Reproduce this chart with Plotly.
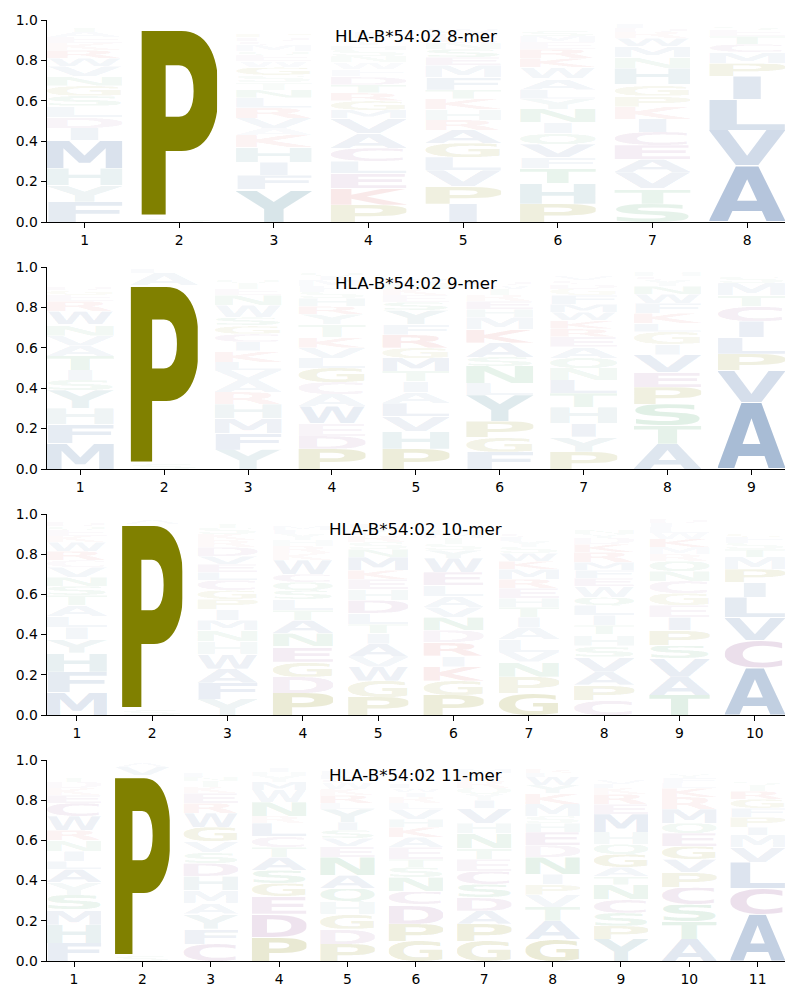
import base64
import plotly.graph_objects as go

TITLES = ["HLA-B*54:02 8-mer", "HLA-B*54:02 9-mer", "HLA-B*54:02 10-mer", "HLA-B*54:02 11-mer"]

# letters stacked bottom -> top for each position, with their heights
LETTERS_8 = ["FYHMIDLSGNVWRKEATC", "SPALV", "YFIHKAVRLNTSGWEQMCDP", "PKELCAVMGRTDFWNSHYQI",
             "IPVLGARHKTFMESNCDWY", "PHTFVQINYLAWKREMSGC", "STVAECIKPGHNMWRDF", "AVLIPMCTES"]
HEIGHTS_8 = [
    [.10, .08, .085, .14, .06, .055, .055, .05, .05, .045, .05, .04, .04, .035, .03, .025, .02, .015],
    [.02, .935, .015, .01, .01],
    [.16, .07, .065, .075, .06, .035, .05, .05, .05, .04, .035, .035, .04, .03, .03, .02, .03, .02, .02, .02],
    [.085, .08, .075, .06, .065, .075, .075, .04, .045, .04, .04, .04, .035, .035, .03, .03, .025, .02, .015, .03],
    [.09, .085, .08, .065, .07, .065, .05, .055, .05, .045, .06, .06, .04, .04, .03, .03, .02, .02, .015],
    [.09, .10, .075, .055, .065, .055, .055, .065, .05, .045, .055, .055, .045, .045, .035, .03, .025, .015, .015],
    [.09, .075, .08, .065, .07, .065, .065, .06, .055, .055, .08, .055, .055, .04, .03, .02, .02],
    [.28, .175, .15, .115, .065, .055, .04, .04, .03, .02],
]

LETTERS_9 = ["MFHYSITAVNWREGDCQ", "SPAL", "YFMHRAVLKICGSWNETQ", "PDEWACGLVKTYRHSFMIQ",
             "PHVLAITMGRFYSEKNWC", "FGPYLNSAKMHERTWD", "PYIHTLNQAERKWMFGDCV", "ATSPEVIGLKFWNYCH", "AVPLICTMS"]
HEIGHTS_9 = [
    [.125, .095, .08, .09, .05, .05, .07, .05, .05, .055, .065, .05, .03, .025, .02, .015, .015],
    [.025, .885, .06, .02],
    [.095, .08, .075, .07, .06, .06, .05, .04, .055, .045, .04, .04, .04, .06, .05, .03, .03, .02],
    [.1, .065, .06, .085, .06, .06, .07, .05, .05, .055, .06, .05, .04, .04, .03, .03, .03, .02, .02],
    [.1, .085, .075, .065, .055, .055, .05, .065, .05, .065, .05, .07, .04, .035, .03, .03, .02, .015],
    [.085, .07, .08, .13, .06, .085, .045, .07, .065, .06, .04, .04, .03, .03, .02, .02],
    [.085, .075, .065, .08, .07, .065, .06, .05, .055, .05, .04, .04, .04, .04, .045, .03, .025, .02, .02],
    [.125, .09, .105, .085, .075, .085, .055, .06, .04, .05, .05, .045, .04, .03, .02, .02],
    [.33, .16, .08, .08, .08, .075, .055, .06, .03],
]

LETTERS_10 = ["MFHYILATSNVCRWKEQD", "SPAL", "YFAWHNMIPGCLEVDRKSTQ", "PDGENATLSQCWKRHYFM",
              "PGWVAITLDHEKMNSRCYF", "PGKIRDNVALEWYSTMH", "GPNVLAITHERMKWSYFC", "CPAVSHTILQWEFMRKDYN",
              "TAVSPIEGCNQRMKWLFD", "ACVLIPMTSFG"]
HEIGHTS_10 = [
    [.115, .1, .095, .065, .06, .055, .055, .05, .045, .045, .05, .035, .045, .045, .03, .03, .02, .02],
    [.025, .925, .02, .015],
    [.08, .08, .07, .075, .06, .055, .05, .055, .05, .045, .05, .04, .04, .04, .045, .035, .03, .03, .02, .015],
    [.11, .08, .075, .075, .065, .065, .05, .055, .045, .04, .04, .07, .035, .035, .03, .03, .02, .02],
    [.09, .08, .07, .05, .065, .05, .045, .055, .065, .055, .05, .045, .065, .04, .035, .03, .02, .02, .02],
    [.1, .07, .07, .055, .065, .06, .065, .05, .055, .055, .065, .07, .04, .03, .03, .02, .02],
    [.11, .08, .075, .05, .06, .06, .05, .05, .045, .05, .045, .05, .04, .04, .03, .03, .02, .02],
    [.075, .075, .065, .075, .055, .055, .045, .05, .05, .04, .055, .04, .04, .04, .05, .04, .03, .02, .02],
    [.1, .09, .09, .065, .075, .065, .06, .06, .06, .05, .05, .035, .035, .04, .03, .03, .02, .02],
    [.235, .135, .115, .10, .075, .065, .06, .04, .03, .03, .02],
]

LETTERS_11 = ["FHMSYALINRWCEKDTQ", "SPVA", "CFYAMHDSVGWREKTNL", "PDEGSATCLRNWMYHI",
              "PDGHQANEVSIYLRKWCMF", "GPDCNSTEAKHVLRIWF", "GPADSCETNHVIYQRKLM", "GATVPINDEHSMKYWLR",
              "YPSCNTAGQHMERKLV", "ATSCPVGEQMRKLFY", "ACLVMIPFGRTS"]
HEIGHTS_11 = [
    [.09, .09, .075, .075, .06, .065, .04, .05, .055, .05, .07, .065, .04, .035, .03, .02, .015],
    [.025, .90, .04, .02],
    [.085, .075, .075, .055, .06, .07, .065, .055, .055, .07, .07, .05, .05, .03, .03, .02, .02],
    [.12, .115, .085, .065, .065, .065, .05, .055, .065, .035, .07, .06, .04, .03, .02, .02],
    [.085, .075, .075, .06, .065, .065, .09, .055, .04, .04, .04, .065, .03, .04, .03, .03, .02, .02, .02],
    [.1, .085, .095, .065, .07, .05, .04, .06, .05, .05, .04, .05, .03, .03, .025, .02, .02],
    [.1, .085, .065, .065, .065, .065, .06, .055, .075, .05, .075, .04, .03, .03, .03, .025, .02, .02],
    [.11, .09, .07, .06, .05, .05, .085, .06, .065, .045, .035, .06, .055, .04, .04, .02, .02],
    [.11, .065, .065, .065, .075, .04, .045, .065, .05, .06, .09, .05, .05, .03, .02, .02],
    [.11, .085, .085, .085, .075, .065, .065, .065, .05, .07, .06, .045, .025, .025, .02],
    [.23, .13, .13, .075, .06, .04, .05, .045, .045, .04, .03, .02],
]

PANELS = [(LETTERS_8, HEIGHTS_8), (LETTERS_9, HEIGHTS_9), (LETTERS_10, HEIGHTS_10), (LETTERS_11, HEIGHTS_11)]

# ---- styling ----
BLUE = "#4a72a8"
TEAL = "#55909e"
OLIVE = "#808000"
GREEN = "#3a9a5a"
PURPLE = "#9a5a9a"
RED = "#d04545"
COLORS = {}
for c in "AVLIMFW":
    COLORS[c] = BLUE
for c in "YH":
    COLORS[c] = TEAL
for c in "PG":
    COLORS[c] = OLIVE
for c in "STNQ":
    COLORS[c] = GREEN
for c in "CDE":
    COLORS[c] = PURPLE
for c in "KR":
    COLORS[c] = RED

# approximate ink box of DejaVu Sans Bold glyphs (em units): left bearing, ink width
METRICS = {
    "A": (0.010, 0.754), "C": (0.050, 0.650), "D": (0.091, 0.680), "E": (0.091, 0.520),
    "F": (0.091, 0.500), "G": (0.050, 0.710), "H": (0.091, 0.655), "I": (0.091, 0.190),
    "K": (0.091, 0.690), "L": (0.091, 0.520), "M": (0.091, 0.813), "N": (0.091, 0.655),
    "P": (0.091, 0.590), "Q": (0.050, 0.750), "R": (0.091, 0.670), "S": (0.060, 0.600),
    "T": (0.010, 0.662), "V": (0.010, 0.754), "W": (0.020, 1.064), "Y": (-0.005, 0.734),
}
E_WIDTH = METRICS["E"][1]
CAP = 729


def glyph_uri(ch, color, alpha):
    lsb, ink = METRICS[ch]
    if ink < E_WIDTH:  # don't stretch narrow glyphs more than 'E'
        cx = lsb + ink / 2
        vx, vw = cx - E_WIDTH / 2, E_WIDTH
    else:
        vx, vw = lsb, ink
    top, hgt = -CAP - 10, CAP + 20
    if ch in "CGOSQ":
        top, hgt = -CAP - 14, CAP + 28
    svg = ('<svg xmlns="http://www.w3.org/2000/svg" width="100" height="100" '
           f'viewBox="{vx*1000:.1f} {top} {vw*1000:.1f} {hgt}" preserveAspectRatio="none">'
           f'<text x="0" y="0" font-family="DejaVu Sans" font-weight="bold" font-size="1000" '
           f'fill="{color}" fill-opacity="{alpha:.3f}">{ch}</text></svg>')
    return "data:image/svg+xml;base64," + base64.b64encode(svg.encode()).decode()


fig = go.Figure()
X0, X1 = 46.7 / 800, 785 / 800
DOMAINS_Y = [(1 - 222 / 1000, 1 - 20 / 1000), (1 - 469 / 1000, 1 - 267 / 1000),
             (1 - 715 / 1000, 1 - 514 / 1000), (1 - 961 / 1000, 1 - 760 / 1000)]
TITLE_Y = [1 - 36 / 1000, 1 - 283 / 1000, 1 - 529 / 1000, 1 - 775 / 1000]
FONT = "DejaVu Sans"
WIDTH = 0.8

images = []
annotations = []
layout_axes = {}
for i, (letters, heights) in enumerate(PANELS):
    n = len(letters)
    ax = "" if i == 0 else str(i + 1)
    xname, yname = "x" + ax, "y" + ax
    # invisible trace to create the axes
    fig.add_trace(go.Scatter(x=[1, n], y=[0, 0], mode="markers", marker=dict(opacity=0),
                             hoverinfo="skip", showlegend=False, xaxis=xname, yaxis=yname))
    common = dict(showline=True, linecolor="black", linewidth=1.1, automargin=False,
                  ticks="outside", ticklen=5, tickwidth=1.1, tickcolor="black",
                  showgrid=False, zeroline=False,
                  tickfont=dict(family=FONT, size=13.9, color="black"))
    layout_axes["xaxis" + ax] = dict(domain=[X0, X1], anchor=yname, range=[0.6, n + 0.4],
                                     tickmode="array", tickvals=list(range(1, n + 1)),
                                     ticktext=[str(k) for k in range(1, n + 1)], **common)
    layout_axes["yaxis" + ax] = dict(domain=list(DOMAINS_Y[i]), anchor=xname, range=[0, 1],
                                     tickmode="array", tickvals=[0, 0.2, 0.4, 0.6, 0.8, 1.0],
                                     ticktext=["0.0", "0.2", "0.4", "0.6", "0.8", "1.0"], **common)
    for p, (col, hs) in enumerate(zip(letters, heights)):
        pos = p + 1
        base = 0.0
        for ch, h in zip(col, hs):
            alpha = max(0.02, min(1.0, 1.45 * h))
            images.append(dict(source=glyph_uri(ch, COLORS[ch], alpha), xref=xname, yref=yname,
                               x=pos - WIDTH / 2, y=base + h, sizex=WIDTH, sizey=h,
                               xanchor="left", yanchor="top", sizing="stretch", layer="above"))
            base += h
    annotations.append(dict(text=TITLES[i], xref="paper", yref="paper", x=(X0 + X1) / 2, y=TITLE_Y[i],
                            xanchor="center", yanchor="middle", showarrow=False,
                            font=dict(family=FONT, size=16.7, color="black")))

fig.update_layout(width=800, height=1000, margin=dict(l=0, r=0, t=0, b=0),
                  paper_bgcolor="white", plot_bgcolor="white",
                  images=images, annotations=annotations, showlegend=False, **layout_axes)

fig.write_html("out.html")
